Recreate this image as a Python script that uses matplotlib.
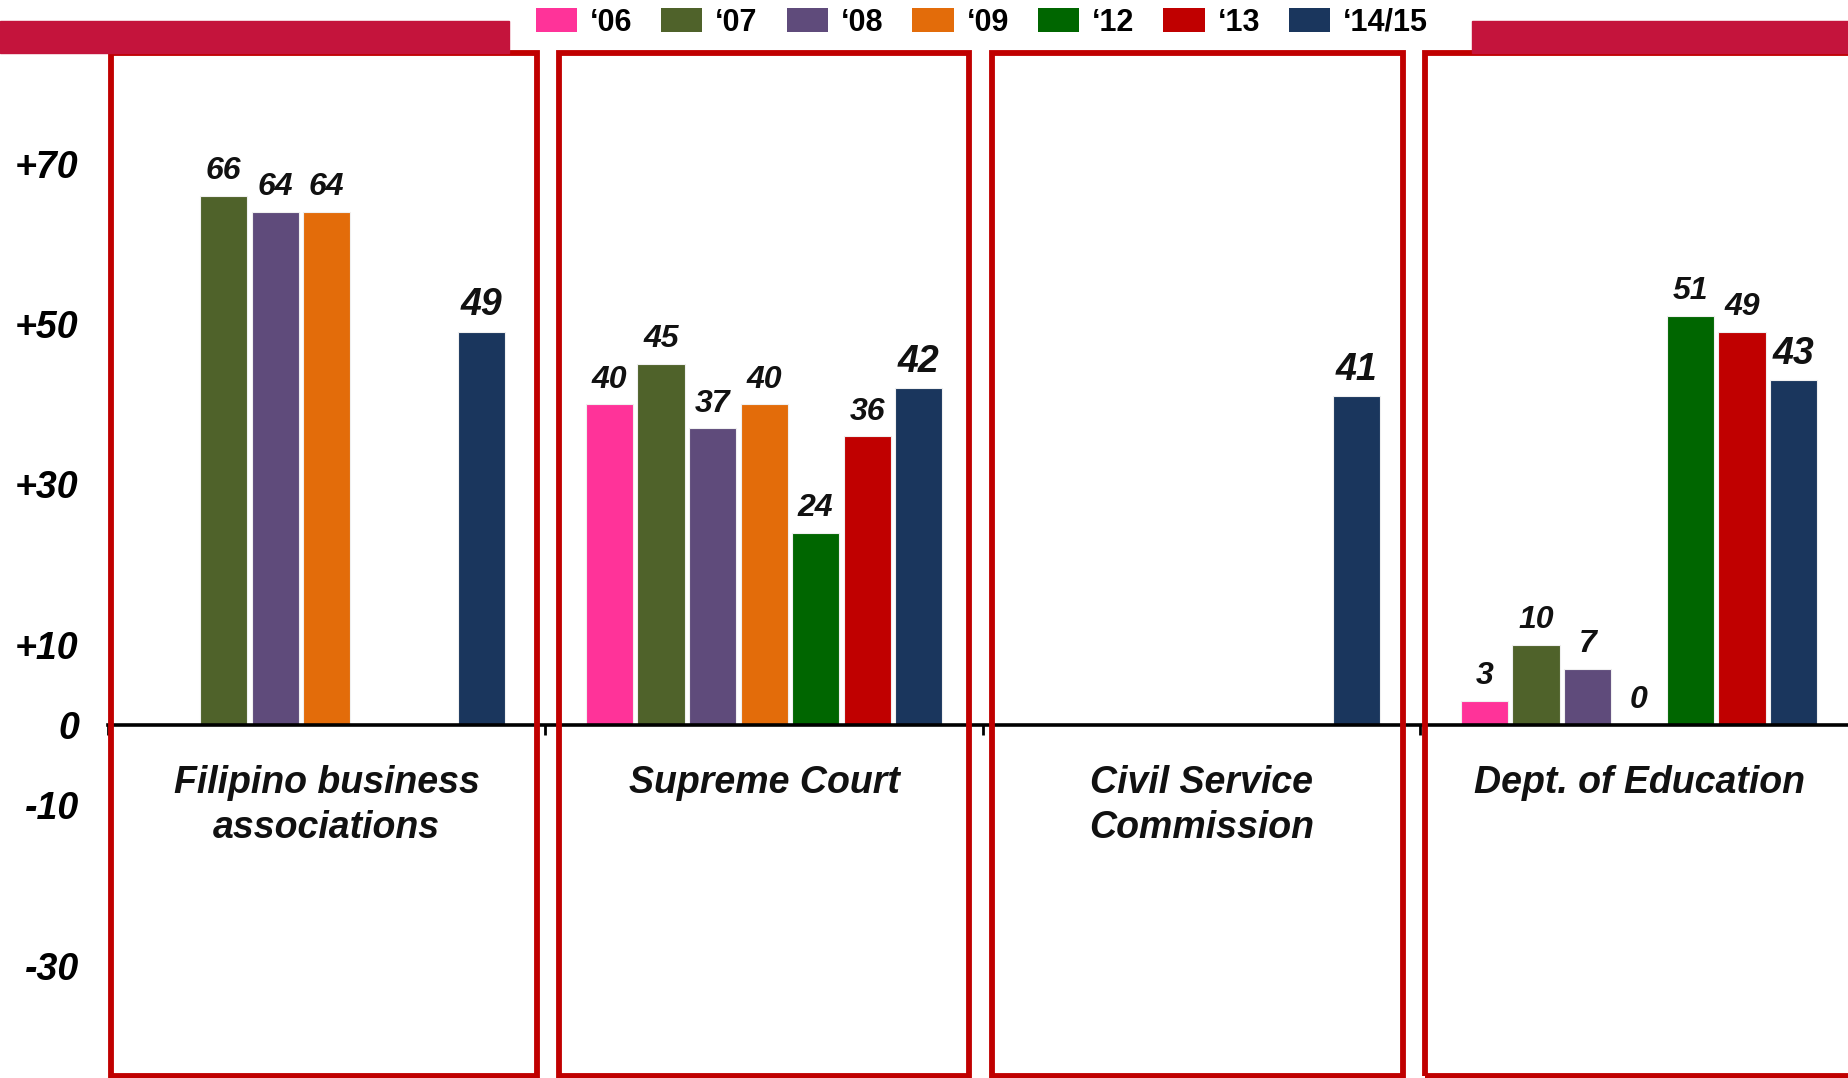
import numpy as np
import matplotlib.pyplot as plt
from matplotlib.patches import Rectangle, Patch

plt.rcParams['font.family'] = ['Liberation Sans', 'DejaVu Sans']

# datos del grafico
grupos = ['Filipino business\nassociations', 'Supreme Court',
          'Civil Service\nCommission', 'Dept. of Education']
anios = ['\u201806', '\u201807', '\u201808', '\u201809', '\u201812', '\u201813', '\u201814/15']
colores = ['#FF3399', '#4F622A', '#5F4B7B', '#E36C0A', '#006600', '#C00000', '#1A365D']

negocios = [None, 66, 64, 64, None, None, 49]
corte = [40, 45, 37, 40, 24, 36, 42]
servicio = [None, None, None, None, None, None, 41]
educacion = [3, 10, 7, 0, 51, 49, 43]
valores = [negocios, corte, servicio, educacion]

marcasY = [70, 50, 30, 10, 0, -10, -30]
etiquetasY = ['+70', '+50', '+30', '+10', '0', '-10', '-30']

fig = plt.figure(figsize=(18.49, 10.78), dpi=100)
ax = fig.add_axes([0.0584, 0.0, 0.9416, 1.0])
ax.set_xlim(-0.5, 3.48)
ax.set_ylim(-44.0, 90.4)

# bandas rojas arriba
fig.patches.append(Rectangle((0, 0.9508), 0.2755, 0.0297, transform=fig.transFigure,
                             color='#C4143C', zorder=0))
fig.patches.append(Rectangle((0.796, 0.9508), 0.204, 0.0297, transform=fig.transFigure,
                             color='#C4143C', zorder=0))

# bordes de cada recuadro (izq, der) respecto al centro del grupo
marcos = [(-0.494, 0.480), (-0.470, 0.469), (-0.480, 0.461), (-0.489, 0.56)]

paso = 0.1178
ancho = 0.108
for g, serie in enumerate(valores):
    for i, v in enumerate(serie):
        if v is None:
            continue
        x = g + (i - 3) * paso
        ax.bar(x, v, width=ancho, color=colores[i], edgecolor='#F0F0F0', linewidth=0.8, zorder=2)
        tam = 27 if i == 6 else 23
        ax.annotate(str(v), (x, v), xytext=(0, 12), textcoords='offset points',
                    ha='center', va='baseline', fontsize=tam, fontweight='bold',
                    fontstyle='italic', color='#111111')
    ax.text(g, -5.0, grupos[g], ha='center', va='top', fontsize=27, fontweight='bold',
            fontstyle='italic', color='#111111', linespacing=1.32)
    izq, der = marcos[g]
    ax.add_patch(Rectangle((g + izq, -43.7), der - izq, 127.5, fill=False,
                           edgecolor='#C00000', linewidth=4.2, zorder=4, clip_on=False))

ax.spines['left'].set_visible(False)
ax.spines['right'].set_visible(False)
ax.spines['top'].set_visible(False)
ax.spines['bottom'].set_position(('data', 0))
ax.spines['bottom'].set_linewidth(2.6)
ax.spines['bottom'].set_zorder(3)

ax.set_xticks([-0.5, 0.5, 1.5, 2.5])
ax.set_xticklabels([])
ax.tick_params(axis='x', direction='out', length=7, width=2)
ax.set_yticks(marcasY)
ax.set_yticklabels(etiquetasY, fontsize=27, fontweight='bold', fontstyle='italic')
ax.tick_params(axis='y', length=0, pad=21)

manijas = [Patch(facecolor=c) for c in colores]
fig.legend(manijas, anios, loc='center', bbox_to_anchor=(0.531, 0.979), ncol=7,
           frameon=False, handlelength=1.35, handleheight=0.83, handletextpad=0.42,
           columnspacing=0.95, prop={'weight': 'bold', 'size': 22})

fig.savefig('out.png', dpi=100)
